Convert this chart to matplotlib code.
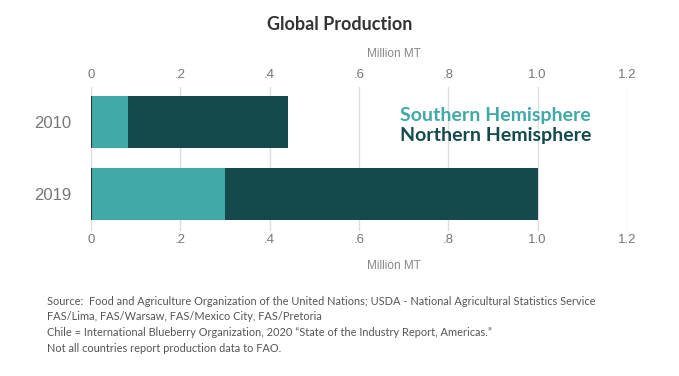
import matplotlib
matplotlib.use("Agg")
import matplotlib.pyplot as plt

# data (million MT)
years = ["2010", "2019"]
southern = [0.083, 0.30]
northern = [0.357, 0.70]
xticks = [0, 0.2, 0.4, 0.6, 0.8, 1.0, 1.2]
xticklabels = ["0", ".2", ".4", ".6", ".8", "1.0", "1.2"]

SOUTH = "#41a9a7"
NORTH = "#144a4b"
W, H = 679, 376

fig = plt.figure(figsize=(W / 100, H / 100), dpi=100)
ax = fig.add_axes([91 / W, 1 - 231 / H, (627 - 91) / W, (231 - 87) / H])

pos = list(range(len(years)))
bh = 0.72
ax.barh(pos, southern, height=bh, color=SOUTH)
ax.barh(pos, northern, left=southern, height=bh, color=NORTH)
# thin dark baseline at the start of each bar
ax.vlines([0] * len(pos), [p - bh / 2 for p in pos], [p + bh / 2 for p in pos],
          color="#333333", lw=1.5, zorder=3)

ax.set_xlim(0, 1.2)
ax.set_ylim(1.514, -0.486)
ax.set_xticks(xticks)
ax.set_xticklabels(xticklabels)
ax.set_yticks(pos)
ax.set_yticklabels(years)
ax.tick_params(axis="x", length=0, labelsize=9.5, labelcolor="#777777", pad=2)
ax.tick_params(axis="y", length=0, labelsize=12, labelcolor="#777777", pad=14)

top = ax.secondary_xaxis("top")
top.set_xticks(xticks)
top.set_xticklabels(xticklabels)
top.tick_params(length=0, labelsize=9.5, labelcolor="#777777", pad=4)
top.spines["top"].set_visible(False)

for lab in ax.get_xticklabels() + ax.get_yticklabels() + top.get_xticklabels():
    lab.set_family("Liberation Sans")
ax.grid(axis="x", color="#dddddd", lw=1)
ax.set_axisbelow(True)
for s in ax.spines.values():
    s.set_visible(False)

# axis titles top and bottom
fig.text(394 / W, 1 - 54 / H, "Million MT", ha="center", va="center",
         fontsize=8.5, color="#888888", family="Liberation Sans")
fig.text(394 / W, 1 - 266 / H, "Million MT", ha="center", va="center",
         fontsize=8.5, color="#888888", family="Liberation Sans")

fig.text(340 / W, 1 - 25 / H, "Global Production", ha="center", va="center",
         fontsize=13, fontweight="bold", color="#333333", family="Lato")

# legend as coloured text
fig.text(400 / W, 1 - 115 / H, "Southern Hemisphere", ha="left", va="center",
         fontsize=14, fontweight="bold", color=SOUTH, family="Lato")
fig.text(400 / W, 1 - 135 / H, "Northern Hemisphere", ha="left", va="center",
         fontsize=14, fontweight="bold", color=NORTH, family="Lato")

source = ("Source:  Food and Agriculture Organization of the United Nations; USDA - National Agricultural Statistics Service\n"
          "FAS/Lima, FAS/Warsaw, FAS/Mexico City, FAS/Pretoria\n"
          "Chile = International Blueberry Organization, 2020 \u201cState of the Industry Report, Americas.\u201d\n"
          "Not all countries report production data to FAO.")
fig.text(47 / W, 1 - 296 / H, source, ha="left", va="top", fontsize=7.9,
         color="#555555", family="Lato", linespacing=1.5)

fig.savefig("out.png", dpi=100)
